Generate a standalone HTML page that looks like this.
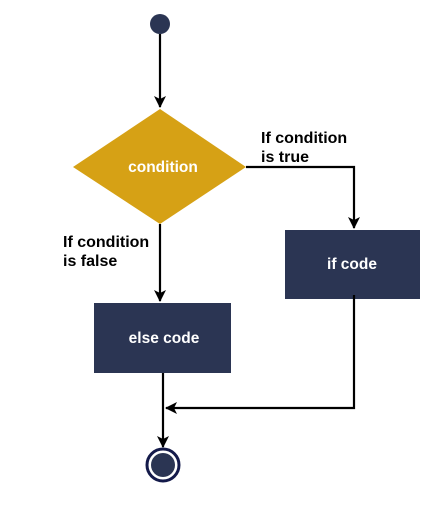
<!DOCTYPE html>
<html><head><style>body{margin:0;background:#fff}</style></head><body>
<svg width="447" height="500" xmlns="http://www.w3.org/2000/svg" font-family="Liberation Sans, sans-serif">
<defs><marker id="a" markerWidth="14" markerHeight="14" refX="11" refY="6" orient="auto" markerUnits="userSpaceOnUse"><path d="M0,0 L12,6 L0,12 L3,6 Z" fill="#000"/></marker></defs>
<circle cx="160" cy="24" r="10" fill="#2b3553"/>
<line x1="160" y1="34" x2="160" y2="107" stroke="#000" stroke-width="2.2" marker-end="url(#a)"/>
<polygon points="160,109 246,167 160,224 73,167" fill="#d6a115"/>
<text x="163" y="172" fill="#fff" font-size="15.5" font-weight="bold" text-anchor="middle">condition</text>
<polyline points="246,167 354,167 354,228" fill="none" stroke="#000" stroke-width="2.2" marker-end="url(#a)"/>
<text x="261" y="143" font-size="16" font-weight="bold">If condition</text>
<text x="261" y="162" font-size="16" font-weight="bold">is true</text>
<line x1="160" y1="224" x2="160" y2="301" stroke="#000" stroke-width="2.2" marker-end="url(#a)"/>
<text x="63" y="247" font-size="16" font-weight="bold">If condition</text>
<text x="63" y="266" font-size="16" font-weight="bold">is false</text>
<rect x="285" y="230" width="135" height="69" fill="#2b3553"/>
<text x="352" y="269" fill="#fff" font-size="15.5" font-weight="bold" text-anchor="middle">if code</text>
<rect x="94" y="303" width="137" height="70" fill="#2b3553"/>
<text x="164" y="343" fill="#fff" font-size="15.5" font-weight="bold" text-anchor="middle">else code</text>
<polyline points="354,295 354,408 166,408" fill="none" stroke="#000" stroke-width="2.2" marker-end="url(#a)"/>
<line x1="163" y1="373" x2="163" y2="447" stroke="#000" stroke-width="2.2" marker-end="url(#a)"/>
<circle cx="163" cy="465" r="16" fill="#fff" stroke="#141a4a" stroke-width="3"/>
<circle cx="163" cy="465" r="12" fill="#2b3553"/>
</svg>
</body></html>
